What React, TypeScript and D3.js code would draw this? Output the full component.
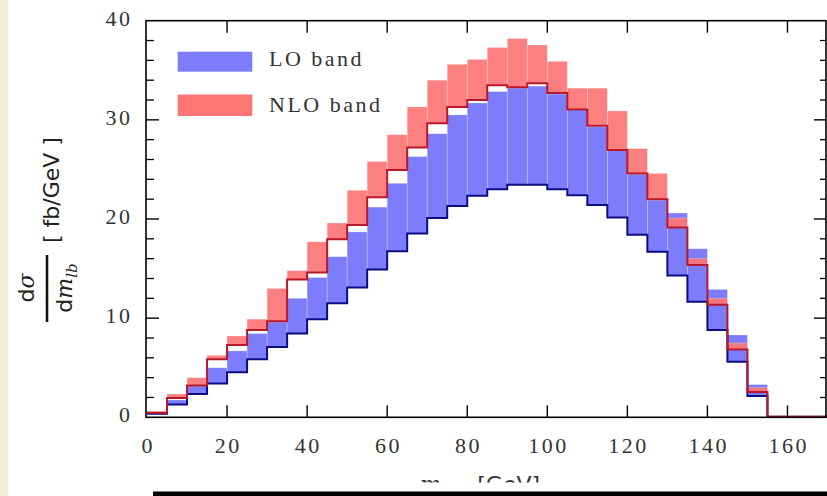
import React from "react";
import * as d3 from "d3";

// ---- data ----
const binStarts = [0, 5, 10, 15, 20, 25, 30, 35, 40, 45, 50, 55, 60, 65, 70, 75, 80, 85, 90, 95, 100, 105, 110, 115, 120, 125, 130, 135, 140, 145, 150, 155, 160, 165];
const BIN_WIDTH = 5;
const loLow = [0.35, 1.3, 2.35, 3.4, 4.55, 5.85, 7.1, 8.45, 9.9, 11.5, 13.1, 14.9, 16.75, 18.55, 20.1, 21.3, 22.35, 23.0, 23.45, 23.45, 23.0, 22.4, 21.4, 20.15, 18.4, 16.7, 14.3, 11.65, 8.8, 5.6, 2.15, 0.05, 0.05, 0.05];
const loHigh = [0.55, 1.75, 3.15, 5.0, 6.7, 8.45, 9.6, 12.0, 14.1, 16.2, 18.7, 21.2, 23.6, 26.3, 28.6, 30.5, 31.7, 32.85, 33.2, 33.4, 32.6, 31.0, 29.3, 26.9, 24.5, 21.9, 20.6, 17.0, 12.9, 8.3, 3.3, 0.1, 0.1, 0.1];
const nloLow = [0.45, 1.95, 3.2, 5.85, 7.3, 8.8, 9.7, 13.9, 14.6, 17.95, 19.4, 22.2, 24.95, 27.2, 29.65, 31.3, 32.0, 33.5, 33.3, 33.7, 32.7, 31.05, 29.4, 26.95, 24.6, 22.0, 19.15, 15.35, 11.35, 6.85, 2.55, 0.05, 0.05, 0.05];
const nloHigh = [0.6, 2.35, 4.0, 6.25, 8.2, 9.9, 13.0, 14.8, 17.7, 19.6, 22.9, 25.8, 28.5, 31.3, 34.0, 35.6, 36.1, 37.3, 38.2, 37.55, 35.9, 33.2, 33.2, 30.9, 27.1, 24.6, 20.1, 16.0, 12.0, 7.5, 3.0, 0.12, 0.12, 0.12];
const xTicks = [0, 20, 40, 60, 80, 100, 120, 140, 160];
const yTicks = [0, 10, 20, 30, 40];
const yMinorTicks = d3.range(0, 41, 2).filter((v) => v % 10 !== 0);
const legendLabels = ["LO band", "NLO band"];

const BLUE = "#7d7dfb";
const RED = "#fd7676";
const NAVY = "#0c0c82";
const DARKRED = "#b8182a";

export default function App() {
  const W = 827;
  const H = 496;
  const x = d3.scaleLinear().domain([0, 170]).range([147, 827.5]);
  const y = d3.scaleLinear().domain([0, 40]).range([417.3, 20.7]);
  const left = x(0) - 1;
  const right = Math.min(x(170), 826);
  const top = y(40);
  const bottom = y(0);

  const stepPts = (vals: number[]) => {
    const pts: [number, number][] = binStarts.map((s, i) => [s, vals[i]]);
    pts.push([binStarts[binStarts.length - 1] + BIN_WIDTH, vals[vals.length - 1]]);
    return pts;
  };
  const line = d3
    .line<[number, number]>()
    .x((d) => x(d[0]))
    .y((d) => y(d[1]))
    .curve(d3.curveStepAfter);

  const serif = "'Liberation Serif', 'Times New Roman', serif";
  const sans = "'DejaVu Sans', sans-serif";

  return (
    <svg
      width={W}
      height={H}
      style={{ position: "absolute", left: 0, top: 0, display: "block", background: "#fff" }}
    >
      <defs>
        <clipPath id="xlabClip">
          <rect x={0} y={0} width={W} height={482.5} />
        </clipPath>
      </defs>
      <rect x={0} y={0} width={W} height={H} fill="#fff" />
      <rect x={0} y={0} width={8.5} height={H} fill="#f6eedb" />

      {/* LO band */}
      <g>
        {binStarts.map((s, i) => (
          <rect
            key={"lo" + i}
            x={x(s)}
            width={x(s + BIN_WIDTH) - x(s)}
            y={y(loHigh[i])}
            height={Math.max(0, y(loLow[i]) - y(loHigh[i]))}
            fill={BLUE}
            stroke="rgba(255,255,255,0.35)"
            strokeWidth={0.7}
          />
        ))}
      </g>
      {/* NLO band */}
      <g>
        {binStarts.map((s, i) => (
          <rect
            key={"nlo" + i}
            x={x(s)}
            width={x(s + BIN_WIDTH) - x(s)}
            y={y(nloHigh[i])}
            height={Math.max(0, y(nloLow[i]) - y(nloHigh[i]))}
            fill={RED}
            fillOpacity={0.93}
            stroke="rgba(255,255,255,0.35)"
            strokeWidth={0.7}
          />
        ))}
      </g>

      <path d={line(stepPts(loLow)) || ""} fill="none" stroke={NAVY} strokeWidth={2} />
      <path d={line(stepPts(nloLow)) || ""} fill="none" stroke={DARKRED} strokeWidth={2} />

      {/* frame */}
      <rect x={left} y={top} width={right - left} height={bottom - top} fill="none" stroke="#000" strokeWidth={1.6} />

      {/* x ticks */}
      {xTicks.map((t) => (
        <g key={"xt" + t}>
          {t > 0 && <line x1={x(t)} x2={x(t)} y1={bottom} y2={bottom - 12} stroke="#000" strokeWidth={1.4} />}
          {t > 0 && <line x1={x(t)} x2={x(t)} y1={top} y2={top + 12} stroke="#000" strokeWidth={1.4} />}
          <text
            x={x(t) + 1.25}
            y={453}
            textAnchor="middle"
            fontFamily={serif}
            fontSize={22}
            letterSpacing={2.5}
            fill="#333"
          >
            {t}
          </text>
        </g>
      ))}

      {/* y ticks */}
      {yTicks.map((t) => (
        <g key={"yt" + t}>
          {t > 0 && t < 40 && <line x1={left} x2={left + 13} y1={y(t)} y2={y(t)} stroke="#000" strokeWidth={1.4} />}
          {t > 0 && t < 40 && <line x1={right} x2={right - 12} y1={y(t)} y2={y(t)} stroke="#000" strokeWidth={1.4} />}
          <text
            x={132.5}
            y={y(t) + 5}
            textAnchor="end"
            fontFamily={serif}
            fontSize={22}
            letterSpacing={2.5}
            fill="#333"
          >
            {t}
          </text>
        </g>
      ))}
      {yMinorTicks.map((t) => (
        <g key={"ym" + t}>
          <line x1={left} x2={left + 8} y1={y(t)} y2={y(t)} stroke="#000" strokeWidth={1.3} />
          <line x1={right} x2={right - 6} y1={y(t)} y2={y(t)} stroke="#000" strokeWidth={1.3} />
        </g>
      ))}

      {/* legend */}
      <rect x={177.7} y={51.7} width={74.6} height={20} fill={BLUE} />
      <rect x={177.7} y={94.5} width={74.6} height={21.5} fill={RED} />
      <text x={269} y={66} fontFamily={serif} fontSize={22} letterSpacing={2.5} fill="#333">
        {legendLabels[0]}
      </text>
      <text x={269} y={111.5} fontFamily={serif} fontSize={22} letterSpacing={2.5} fill="#333">
        {legendLabels[1]}
      </text>

      {/* y label */}
      <g transform="rotate(-90)">
        <text x={-243} y={59} fontFamily={sans} fontSize={22} fill="#222">
          [ fb/GeV ]
        </text>
        <text x={-288} y={34} textAnchor="middle" fontFamily={sans} fontSize={22} fill="#222">
          d<tspan fontStyle="italic" fontFamily="'DejaVu Serif', serif">σ</tspan>
        </text>
        <line x1={-322} x2={-255} y1={47} y2={47} stroke="#111" strokeWidth={2.6} />
        <text x={-288} y={72} textAnchor="middle" fontFamily={sans} fontSize={22} fill="#222">
          d<tspan fontStyle="italic" fontFamily="'DejaVu Serif', serif">m</tspan>
          <tspan fontStyle="italic" fontFamily="'DejaVu Serif', serif" fontSize={15} dy={5}>lb</tspan>
        </text>
      </g>

      {/* x label (cut off, as in the source) */}
      <g clipPath="url(#xlabClip)">
        <text x={420} y={492} fontFamily="'DejaVu Serif', serif" fontStyle="italic" fontSize={22} fill="#333">
          m<tspan fontSize={15} dy={5}>lb</tspan>
          <tspan dy={-5} fontFamily={sans} fontStyle="normal" dx={22}>[GeV]</tspan>
        </text>
      </g>

      {/* bottom bar */}
      <rect x={153} y={491.5} width={W - 153} height={4.5} fill="#000" />
    </svg>
  );
}
